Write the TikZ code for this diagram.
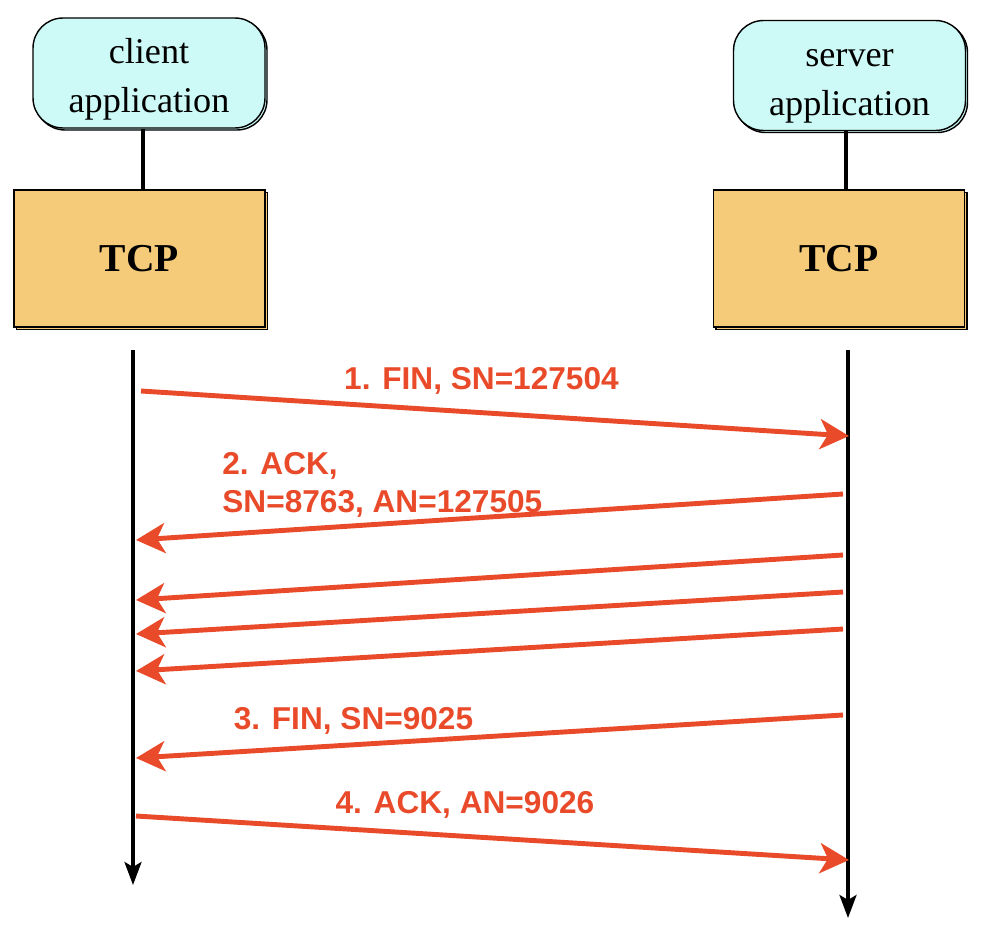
\documentclass[tikz,border=0pt]{standalone}
\usepackage{fontspec}
\setmainfont{Liberation Serif}
\newfontfamily\msgfont{Liberation Sans}
\usetikzlibrary{arrows.meta,shadows}
\definecolor{appcyan}{RGB}{205,250,246}
\definecolor{tcporange}{RGB}{245,203,122}
\definecolor{msgred}{RGB}{233,75,42}
\newcommand{\apptop}{\rule{0pt}{0.76cm}}
\begin{document}
\begin{tikzpicture}[x=0.02cm,y=-0.02cm,
    app/.style={draw,line width=0.8pt,fill=appcyan,rounded corners=0.6cm,minimum width=4.64cm,minimum height=2.2cm,align=center,font=\fontsize{20.6}{28}\selectfont,copy shadow={shadow xshift=0.04cm,shadow yshift=-0.04cm}},
    tcp/.style={draw,line width=0.8pt,fill=tcporange,minimum width=5.02cm,minimum height=2.74cm,font=\fontsize{22.5}{26}\selectfont\bfseries,copy shadow={shadow xshift=0.05cm,shadow yshift=-0.05cm}},
    link/.style={line width=2.4pt},
    life/.style={line width=2pt,-{Stealth[length=0.46cm,width=0.34cm,inset=0.1cm]}},
    msg/.style={msgred,line width=2.8pt,-{Stealth[length=0.58cm,width=0.6cm,inset=0.16cm]}},
    lbl/.style={msgred,font=\msgfont\fontsize{18}{21.5}\selectfont\bfseries,inner sep=0pt}]
    \useasboundingbox (0,0) rectangle (1000,926);
    \node[app] (capp) at (149,73) {\apptop client\\application};
    \node[app] (sapp) at (849.5,75.5) {\apptop server\\application};
    \node[tcp] (ctcp) at (139.5,258.5) {TCP};
    \node[tcp] (stcp) at (839,258.5) {TCP};
    \draw[link] ([xshift=-0.12cm]capp.south) -- ([xshift=-0.12cm]capp.south |- ctcp.north);
    \draw[link] ([xshift=-0.07cm]sapp.south) -- ([xshift=-0.07cm]sapp.south |- stcp.north);
    \coordinate (ctop) at (133,350);
    \coordinate (cbot) at (133,885);
    \coordinate (stop) at (848,350);
    \coordinate (sbot) at (848,918);
    \draw[life] (ctop) -- (cbot);
    \draw[life] (stop) -- (sbot);
    \coordinate (c1) at (141,391);
    \coordinate (s1) at (849,436);
    \coordinate (s2) at (843,494);
    \coordinate (c2) at (136,540);
    \coordinate (s3) at (843,555);
    \coordinate (c3) at (136,600);
    \coordinate (s4) at (843,592);
    \coordinate (c4) at (136,634);
    \coordinate (s5) at (843,629);
    \coordinate (c5) at (136,671);
    \coordinate (s6) at (843,715);
    \coordinate (c6) at (136,758);
    \coordinate (c7) at (136,816);
    \coordinate (s7) at (849,860);
    \draw[msg] (c1) -- (s1);
    \draw[msg] (s2) -- (c2);
    \draw[msg] (s3) -- (c3);
    \draw[msg] (s4) -- (c4);
    \draw[msg] (s5) -- (c5);
    \draw[msg] (s6) -- (c6);
    \draw[msg] (c7) -- (s7);
    \node[lbl,anchor=base] (l1) at (481.5,389) {1. FIN, SN=127504};
    \node[lbl,anchor=west,align=left] (l2) at (222,485) {2. ACK,\\SN=8763, AN=127505};
    \node[lbl,anchor=base] (l3) at (353.5,729) {3. FIN, SN=9025};
    \node[lbl,anchor=base] (l4) at (465,813) {4. ACK, AN=9026};
\end{tikzpicture}
\end{document}
